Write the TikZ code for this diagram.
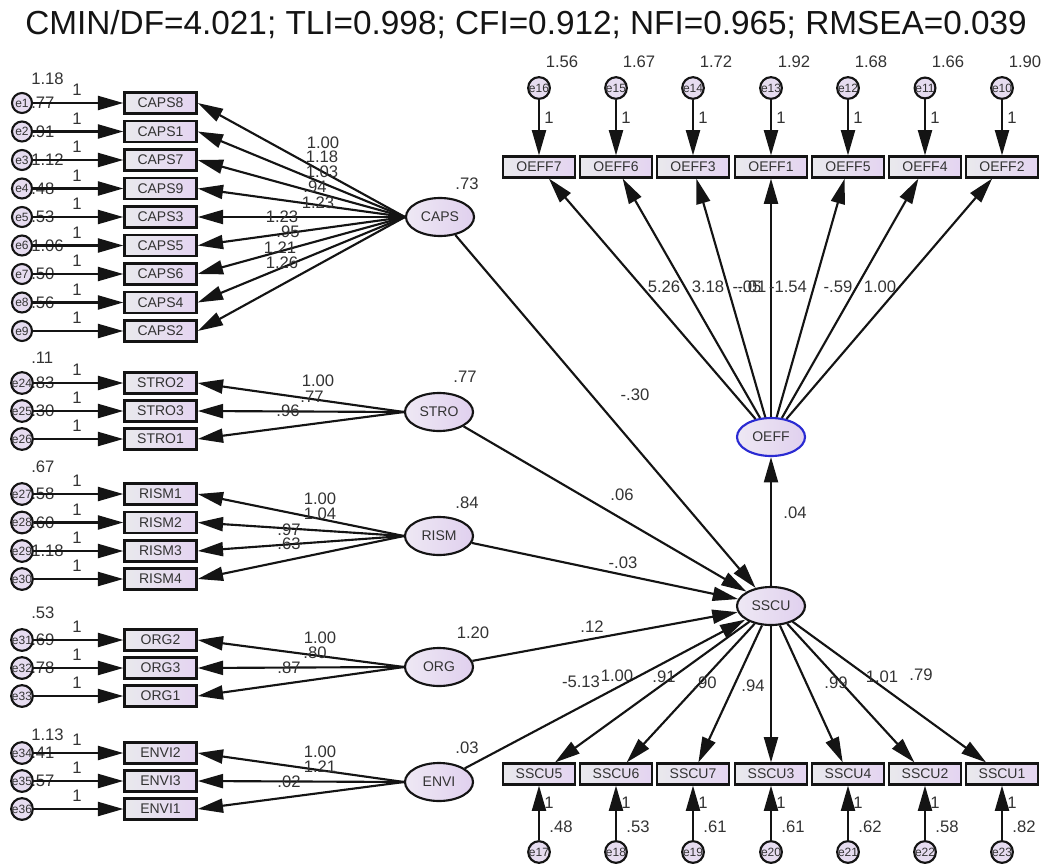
\documentclass[tikz,border=0pt]{standalone}
\usepackage{fontspec}
\setmainfont{Liberation Sans}
\usetikzlibrary{arrows.meta,shapes.geometric}
\definecolor{boxL}{HTML}{E9E9ED}
\definecolor{boxR}{HTML}{E4D4F1}
\definecolor{latL}{HTML}{EEE8F4}
\definecolor{latR}{HTML}{E0D0EE}
\definecolor{errF}{HTML}{E6DCF0}
\definecolor{ink}{HTML}{141414}
\definecolor{lab}{HTML}{333333}
\definecolor{oeffblue}{HTML}{2A2AD2}
\begin{document}
\begin{tikzpicture}[x=0.75pt,y=-0.75pt,
  obs/.style={rectangle, draw=ink, line width=1.8pt, minimum width=54pt, minimum height=15.5pt, inner sep=0pt, left color=boxL, right color=boxR, font=\fontsize{10.5}{12}\selectfont, text=lab},
  lat/.style={ellipse, draw=ink, line width=1.6pt, minimum width=51pt, minimum height=28.5pt, inner sep=0pt, left color=latL, right color=latR, font=\fontsize{10.5}{12}\selectfont, text=lab},
  err/.style={circle, draw=ink, line width=1.6pt, minimum size=15pt, inner sep=0pt, fill=errF, font=\fontsize{9}{10}\selectfont, text=lab},
  num/.style={font=\fontsize{12.5}{14}\selectfont, text=lab, inner sep=0pt},
  varl/.style={num, anchor=west},
  arr/.style={draw=ink, line width=1.6pt, -{Triangle[length=19pt,width=10.5pt]}},
]
\useasboundingbox (0,0) rectangle (1052,863);
\node[font=\fontsize{25}{30}\selectfont, text=ink] (title) at (526,25) {CMIN/DF=4.021; TLI=0.998; CFI=0.912; NFI=0.965; RMSEA=0.039};

% latent variables
\node[lat] (CAPS) at (440,217) {CAPS};
\node[lat] (STRO) at (439,412) {STRO};
\node[lat] (RISM) at (439,536) {RISM};
\node[lat] (ORG) at (439,667) {ORG};
\node[lat] (ENVI) at (439,782) {ENVI};
\node[lat] (SSCU) at (771,606) {SSCU};
\node[lat, draw=oeffblue] (OEFF) at (771,437) {OEFF};

% variance labels left (drawn before circles)
\node[varl] (v1) at (31,79) {1.18};
\node[varl] (v2) at (31,358) {.11};
\node[varl] (v3) at (31,467) {.67};
\node[varl] (v4) at (31,613) {.53};
\node[varl] (v5) at (31,735) {1.13};
\foreach \y/\v in {103/.77, 131.5/.91, 160/1.12, 188.5/.48, 217/.53, 245.5/1.06, 274/.50, 302.5/.56,
                   383/.83, 411/.30, 494/.58, 522.5/.60, 551/1.18, 640/.69, 668/.78, 753/.41, 781/.57}
  {\node[varl] at (31,\y) {\v};}

% left indicator rows
\foreach \e/\n/\y/\l in {e1/CAPS8/103/CAPS, e2/CAPS1/131.5/CAPS, e3/CAPS7/160/CAPS, e4/CAPS9/188.5/CAPS,
    e5/CAPS3/217/CAPS, e6/CAPS5/245.5/CAPS, e7/CAPS6/274/CAPS, e8/CAPS4/302.5/CAPS, e9/CAPS2/331/CAPS,
    e24/STRO2/383/STRO, e25/STRO3/411/STRO, e26/STRO1/439/STRO,
    e27/RISM1/494/RISM, e28/RISM2/522.5/RISM, e29/RISM3/551/RISM, e30/RISM4/579/RISM,
    e31/ORG2/640/ORG, e32/ORG3/668/ORG, e33/ORG1/696/ORG,
    e34/ENVI2/753/ENVI, e35/ENVI3/781/ENVI, e36/ENVI1/809/ENVI}
{
  \node[obs] (\n) at (160.5,\y) {\n};
  \node[err] (\e) at (22,\y) {\e};
  \draw[arr] (\e) -- (\n);
  \node[num] at (77,\y-13) {1};
  \draw[arr] (\l.west) -- (\n.east);
}

% left loadings
\foreach \x/\y/\v in {323/143/1.00, 322/157/1.18, 322/172/1.03, 315/187/.94, 318/203/1.23,
    282/217/1.23, 288/232/.95, 280/248/1.21, 282/263/1.26,
    318/381/1.00, 312/397/.77, 288/411/.96,
    320/499/1.00, 320/514/1.04, 289/530/.97, 289/544/.63,
    320/638/1.00, 315/653/.80, 289/668/.87,
    320/752/1.00, 320/767/1.21, 289/782/.02}
  {\node[num] at (\x,\y) {\v};}

% latent variances
\node[num] at (467,184) {.73};
\node[num] at (465,377) {.77};
\node[num] at (467,503) {.84};
\node[num] at (473,633) {1.20};
\node[num] at (467,748) {.03};

% OEFF indicators
\foreach \e/\n/\x/\v in {e16/OEFF7/539/1.56, e15/OEFF6/616/1.67, e14/OEFF3/693/1.72, e13/OEFF1/771/1.92,
    e12/OEFF5/848/1.68, e11/OEFF4/925/1.66, e10/OEFF2/1002/1.90}
{
  \node[num] at (\x+23,62) {\v};
  \node[err] (\e) at (\x,88) {\e};
  \node[obs] (\n) at (\x,167) {\n};
  \draw[arr] (\e) -- (\n);
  \node[num] at (\x+10,118) {1};
  \draw[arr] (OEFF) -- (\n);
}
\foreach \x/\v in {664/5.26, 708/3.18, 747/-.05, 752/-.01, 788/-1.54, 838/-.59, 880/1.00}
  {\node[num] at (\x,287) {\v};}

% SSCU indicators
\foreach \e/\n/\x/\v in {e17/SSCU5/539/.48, e18/SSCU6/616/.53, e19/SSCU7/693/.61, e20/SSCU3/771/.61,
    e21/SSCU4/848/.62, e22/SSCU2/925/.58, e23/SSCU1/1002/.82}
{
  \node[obs] (\n) at (\x,774) {\n};
  \node[err] (\e) at (\x,852) {\e};
  \draw[arr] (\e) -- (\n);
  \node[num] at (\x+10,803) {1};
  \node[num] at (\x+22,827) {\v};
  \draw[arr] (SSCU) -- (\n);
}
\foreach \x/\y/\v in {581/682/-5.13, 617/676/1.00, 664/677/.91, 705/683/.90, 753/686/.94,
    836/683/.99, 882/677/1.01, 921/675/.79}
  {\node[num] at (\x,\y) {\v};}

% structural paths
\draw[arr] (CAPS) -- (SSCU);
\draw[arr] (STRO) -- (SSCU);
\draw[arr] (RISM) -- (SSCU);
\draw[arr] (ORG) -- (SSCU);
\draw[arr] (ENVI) -- (SSCU);
\draw[arr] (SSCU) -- (OEFF);
\node[num] at (635,395) {-.30};
\node[num] at (622,495) {.06};
\node[num] at (623,563) {-.03};
\node[num] at (592,627) {.12};
\node[num] at (795,513) {.04};
\end{tikzpicture}
\end{document}
